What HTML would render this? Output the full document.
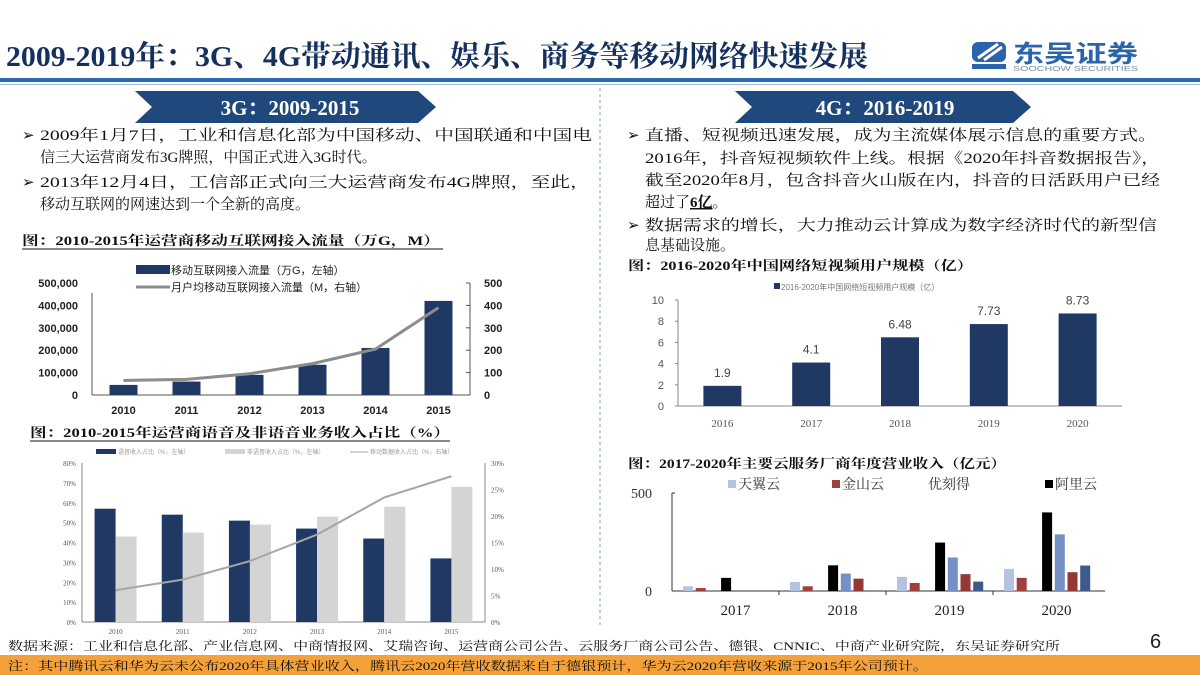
<!DOCTYPE html>
<html><head><meta charset="utf-8">
<style>
html,body{margin:0;padding:0;background:#fff;}
svg{display:block;}
.s{font-family:"Liberation Serif","Noto Serif CJK SC",serif;}
.a{font-family:"Liberation Sans","Noto Sans CJK SC",sans-serif;}
</style></head>
<body>
<svg id="page" width="1200" height="675" viewBox="0 0 1200 675" xmlns="http://www.w3.org/2000/svg">
<!-- header -->
<text class="s" x="6" y="66" font-size="29" font-weight="bold" fill="#14305e" textLength="862" lengthAdjust="spacingAndGlyphs">2009-2019年：3G、4G带动通讯、娱乐、商务等移动网络快速发展</text>
<g>
<rect x="972" y="42" width="34" height="20" rx="6" fill="#2b63ad"/>
<path d="M978 58 L998 44 M984 60 L1002 47" stroke="#fff" stroke-width="3"/>
<rect x="972" y="64" width="34" height="5" fill="#2b63ad"/>
<text class="a" x="1013" y="62" font-size="24" font-weight="bold" fill="#2b63ad" textLength="125" lengthAdjust="spacingAndGlyphs">东吴证券</text>
<text class="a" x="1013" y="71" font-size="7" fill="#7c8fa8" textLength="125" lengthAdjust="spacingAndGlyphs">SOOCHOW SECURITIES</text>
</g>
<rect x="0" y="78" width="1200" height="4" fill="#2b6cb8"/>
<rect x="0" y="84" width="1200" height="1" fill="#9dbbe0"/>
<line x1="600" y1="88" x2="600" y2="628" stroke="#7d9cc7" stroke-width="1" stroke-dasharray="3,3"/>

<!-- banners -->
<g>
<polygon points="135,91 418,91 436,107 418,123 135,123 152,107" fill="#1f497d"/>
<text class="s" x="290" y="115" font-size="21" font-weight="bold" fill="#fff" text-anchor="middle">3G：2009-2015</text>
</g>
<g>
<polygon points="735,91 1013,91 1031,107 1013,123 735,123 752,107" fill="#1f497d"/>
<text class="s" x="885" y="115" font-size="21" font-weight="bold" fill="#fff" text-anchor="middle">4G：2016-2019</text>
</g>

<!-- left bullets -->
<g class="s" font-size="15" fill="#111">
<text x="22" y="140">➢</text>
<text x="40" y="140" textLength="552" lengthAdjust="spacingAndGlyphs">2009年1月7日，工业和信息化部为中国移动、中国联通和中国电</text>
<text x="40" y="162">信三大运营商发布3G牌照，中国正式进入3G时代。</text>
<text x="22" y="187">➢</text>
<text x="40" y="187" textLength="550" lengthAdjust="spacingAndGlyphs">2013年12月4日，工信部正式向三大运营商发布4G牌照，至此，</text>
<text x="40" y="209">移动互联网的网速达到一个全新的高度。</text>
</g>
<!-- right bullets -->
<g class="s" font-size="15" fill="#111">
<text x="627" y="140">➢</text>
<text x="645" y="140" textLength="512" lengthAdjust="spacingAndGlyphs">直播、短视频迅速发展，成为主流媒体展示信息的重要方式。</text>
<text x="645" y="163" textLength="515" lengthAdjust="spacingAndGlyphs">2016年，抖音短视频软件上线。根据《2020年抖音数据报告》，</text>
<text x="645" y="185" textLength="515" lengthAdjust="spacingAndGlyphs">截至2020年8月，包含抖音火山版在内，抖音的日活跃用户已经</text>
<text x="645" y="207">超过了<tspan font-weight="bold" text-decoration="underline">6亿</tspan>。</text>
<text x="627" y="230">➢</text>
<text x="645" y="230" textLength="512" lengthAdjust="spacingAndGlyphs">数据需求的增长，大力推动云计算成为数字经济时代的新型信</text>
<text x="645" y="250">息基础设施。</text>
</g>

<!-- chart titles -->
<text class="s" x="22" y="245" font-size="13" font-weight="bold" fill="#111" textLength="418" lengthAdjust="spacingAndGlyphs">图：2010-2015年运营商移动互联网接入流量（万G，M）</text>
<line x1="22" y1="249" x2="443" y2="249" stroke="#111"/>
<text class="s" x="30" y="437" font-size="13" font-weight="bold" fill="#111" textLength="420" lengthAdjust="spacingAndGlyphs">图：2010-2015年运营商语音及非语音业务收入占比（%）</text>
<line x1="30" y1="441" x2="450" y2="441" stroke="#111"/>
<text class="s" x="628" y="270" font-size="13" font-weight="bold" fill="#111" textLength="345" lengthAdjust="spacingAndGlyphs">图：2016-2020年中国网络短视频用户规模（亿）</text>
<text class="s" x="628" y="468" font-size="13" font-weight="bold" fill="#111" textLength="378" lengthAdjust="spacingAndGlyphs">图：2017-2020年主要云服务厂商年度营业收入（亿元）</text>

<g id="c1"></g><g id="c2"></g><g id="c3"></g><g id="c4"></g>

<!-- footer -->
<text class="s" x="8" y="650" font-size="12" fill="#111" textLength="1052" lengthAdjust="spacingAndGlyphs">数据来源：工业和信息化部、产业信息网、中商情报网、艾瑞咨询、运营商公司公告、云服务厂商公司公告、德银、CNNIC、中商产业研究院，东吴证券研究所</text>
<text class="a" x="1150" y="648" font-size="20" fill="#222">6</text>
<rect x="0" y="655" width="1200" height="20" fill="#f5a13a"/>
<text class="s" x="8" y="670" font-size="12" fill="#111" textLength="920" lengthAdjust="spacingAndGlyphs">注：其中腾讯云和华为云未公布2020年具体营业收入，腾讯云2020年营收数据来自于德银预计，华为云2020年营收来源于2015年公司预计。</text>
</svg>
<script>
// chart 1
const c1Years = ['2010','2011','2012','2013','2014','2015'];
const c1Traffic = [45000, 60000, 90000, 135000, 210000, 420000];
const c1PerUser = [65, 70, 95, 140, 205, 390];
const c1LeftTicks = [0,100000,200000,300000,400000,500000];
const c1RightTicks = [0,100,200,300,400,500];
// chart 2
const c2Years = ['2010','2011','2012','2013','2014','2015'];
const c2Voice = [57, 54, 51, 47, 42, 32];
const c2NonVoice = [43, 45, 49, 53, 58, 68];
const c2Data = [6, 8, 11.5, 16.5, 23.5, 27.5];
const c2LeftTicks = [0,10,20,30,40,50,60,70,80];
const c2RightTicks = [0,5,10,15,20,25,30];
// chart 3
const c3Years = ['2016','2017','2018','2019','2020'];
const c3Users = [1.9, 4.1, 6.48, 7.73, 8.73];
const c3Labels = ['1.9','4.1','6.48','7.73','8.73'];
const c3Ticks = [0,2,4,6,8,10];
// chart 4
const c4Years = ['2017','2018','2019','2020'];
const c4Tianyi = [24, 46, 72, 113];
const c4Jinshan = [15, 24, 41, 67];
const c4Ali = [67, 131, 247, 401];
const c4Tencent = [0, 89, 171, 289];
const c4Ucloud = [0, 63, 86, 96];
const c4Huawei = [0, 0, 48, 130];
const c4Ticks = [0, 500];

const NS='http://www.w3.org/2000/svg';
function mk(parent, tag, attrs, txt){
  const e=document.createElementNS(NS,tag);
  for(const k in attrs) e.setAttribute(k,attrs[k]);
  if(txt!==undefined) e.textContent=txt;
  parent.appendChild(e); return e;
}
const SERIF='"Liberation Serif","Noto Serif CJK SC",serif';
const SANS='"Liberation Sans","Noto Sans CJK SC",sans-serif';

// ---- chart 1
(function(){
  const g=document.getElementById('c1');
  const x0=92,x1=470,yTop=283,yBot=395;
  const bw=(x1-x0)/c1Years.length;
  const yl=v=>yBot-(v/500000)*(yBot-yTop);
  const yr=v=>yBot-(v/500)*(yBot-yTop);
  const cx=i=>x0+bw*(i+0.5);
  let l=mk(g,'line',{x1:x0,y1:yTop+10,x2:x0,y2:yBot,stroke:'#555'});
  
  mk(g,'line',{x1:x1,y1:yTop,x2:x1,y2:yBot,stroke:'#555'});
  mk(g,'line',{x1:x0,y1:yBot,x2:x1,y2:yBot,stroke:'#555'});
  c1LeftTicks.forEach(v=>{
    const t=mk(g,'text',{x:x0-14,y:yl(v)+4,'font-size':11,'font-family':SANS,'text-anchor':'end',fill:'#222','font-weight':'bold'},v.toLocaleString('en-US'));
    
  });
  c1RightTicks.forEach(v=>{
    mk(g,'line',{x1:x1,y1:yr(v),x2:x1-4,y2:yr(v),stroke:'#555'});
    const t=mk(g,'text',{x:x1+14,y:yr(v)+4,'font-size':11,'font-family':SANS,fill:'#222','font-weight':'bold'},String(v));
    
  });
  c1Years.forEach((y,i)=>{
    const b=mk(g,'rect',{x:cx(i)-14,y:yl(c1Traffic[i]),width:28,height:yBot-yl(c1Traffic[i]),fill:'#1f3864'});
    
    const t=mk(g,'text',{x:cx(i),y:414,'font-size':11,'font-family':SANS,'text-anchor':'middle',fill:'#222','font-weight':'bold'},y);
    
  });
  let d=c1PerUser.map((v,i)=>(i?'L':'M')+cx(i)+' '+yr(v)).join(' ');
  const p=mk(g,'path',{d:d,fill:'none',stroke:'#8c8c8c','stroke-width':3});
  
  const lg=mk(g,'g',{});
  
  mk(lg,'rect',{x:136,y:265,width:34,height:9,fill:'#1f3864'});
  mk(lg,'text',{x:171,y:274,'font-size':11,'font-family':SANS,fill:'#222'},'移动互联网接入流量（万G，左轴）');
  mk(lg,'line',{x1:136,y1:287,x2:170,y2:287,stroke:'#8c8c8c','stroke-width':3});
  mk(lg,'text',{x:171,y:291,'font-size':11,'font-family':SANS,fill:'#222'},'月户均移动互联网接入流量（M，右轴）');
})();

// ---- chart 2
(function(){
  const g=document.getElementById('c2');
  const x0=82,x1=485,yTop=463,yBot=622;
  const bw=(x1-x0)/c2Years.length;
  const yl=v=>yBot-(v/80)*(yBot-yTop);
  const yr=v=>yBot-(v/30)*(yBot-yTop);
  const cx=i=>x0+bw*(i+0.5);
  mk(g,'line',{x1:x0,y1:yTop,x2:x0,y2:yBot,stroke:'#888'});
  mk(g,'line',{x1:x1,y1:yTop,x2:x1,y2:yBot,stroke:'#888'});
  mk(g,'line',{x1:x0,y1:yBot,x2:x1,y2:yBot,stroke:'#888'});
  c2LeftTicks.forEach(v=>{
    const t=mk(g,'text',{x:x0-6,y:yl(v)+3,'font-size':7,'font-family':SERIF,'text-anchor':'end',fill:'#555'},v+'%');
    
  });
  c2RightTicks.forEach(v=>{
    const t=mk(g,'text',{x:x1+6,y:yr(v)+3,'font-size':7,'font-family':SERIF,fill:'#555'},v+'%');
    
  });
  c2Years.forEach((y,i)=>{
    let b=mk(g,'rect',{x:cx(i)-21,y:yl(c2Voice[i]),width:21,height:yBot-yl(c2Voice[i]),fill:'#1f3864'});
    
    b=mk(g,'rect',{x:cx(i),y:yl(c2NonVoice[i]),width:21,height:yBot-yl(c2NonVoice[i]),fill:'#d4d4d4'});
    
    const t=mk(g,'text',{x:cx(i),y:634,'font-size':7,'font-family':SERIF,'text-anchor':'middle',fill:'#555'},y);
    
  });
  let d=c2Data.map((v,i)=>(i?'L':'M')+cx(i)+' '+yr(v)).join(' ');
  const p=mk(g,'path',{d:d,fill:'none',stroke:'#a6a6a6','stroke-width':2});
  
  const lg=mk(g,'g',{});
  
  mk(lg,'rect',{x:96,y:449,width:20,height:5,fill:'#1f3864'});
  mk(lg,'text',{x:118,y:454,'font-size':6,'font-family':SANS,fill:'#999'},'语音收入占比（%，左轴）');
  mk(lg,'rect',{x:225,y:449,width:20,height:5,fill:'#d4d4d4'});
  mk(lg,'text',{x:247,y:454,'font-size':6,'font-family':SANS,fill:'#999'},'非语音收入占比（%，左轴）');
  mk(lg,'line',{x1:350,y1:452,x2:368,y2:452,stroke:'#a6a6a6','stroke-width':1});
  mk(lg,'text',{x:370,y:454,'font-size':6,'font-family':SANS,fill:'#999'},'移动数据收入占比（%，右轴）');
})();

// ---- chart 3
(function(){
  const g=document.getElementById('c3');
  const x0=678,x1=1122,yTop=300,yBot=406;
  const bw=(x1-x0)/c3Years.length;
  const y=v=>yBot-(v/10)*(yBot-yTop);
  const cx=i=>x0+bw*(i+0.5);
  mk(g,'line',{x1:x0,y1:yTop,x2:x0,y2:yBot,stroke:'#888'});
  mk(g,'line',{x1:x0,y1:yBot,x2:x1,y2:yBot,stroke:'#888'});
  c3Ticks.forEach(v=>{
    mk(g,'line',{x1:x0-3,y1:y(v),x2:x0,y2:y(v),stroke:'#888'});
    const t=mk(g,'text',{x:x0-14,y:y(v)+4,'font-size':11,'font-family':SANS,'text-anchor':'end',fill:'#555'},String(v));
    
  });
  c3Years.forEach((yr,i)=>{
    const b=mk(g,'rect',{x:cx(i)-19,y:y(c3Users[i]),width:38,height:yBot-y(c3Users[i]),fill:'#1f3864'});
    
    let t=mk(g,'text',{x:cx(i),y:y(c3Users[i])-9,'font-size':12,'font-family':SANS,'text-anchor':'middle',fill:'#444'},c3Labels[i]);
    
    t=mk(g,'text',{x:cx(i),y:427,'font-size':11,'font-family':SERIF,'text-anchor':'middle',fill:'#555'},yr);
    
  });
  const lg=mk(g,'g',{});
  
  mk(lg,'rect',{x:774,y:283,width:6,height:6,fill:'#1f3864'});
  mk(lg,'text',{x:781,y:290,'font-size':8,'font-family':SANS,fill:'#777'},'2016-2020年中国网络短视频用户规模（亿）');
})();

// ---- chart 4
(function(){
  const g=document.getElementById('c4');
  const x0=672,x1=1105,yTop=493,yBot=591;
  const cw=107;
  const y=v=>yBot-(v/500)*(yBot-yTop);
  const series=[
    {vals:c4Tianyi,slot:0,col:'#b4c3df',n:'tianyi'},
    {vals:c4Jinshan,slot:1,col:'#a0403c',n:'jinshan'},
    {vals:c4Ali,slot:3,col:'#000000',n:'aliyun'},
    {vals:c4Tencent,slot:4,col:'#7391c4',n:'tencent'},
    {vals:c4Ucloud,slot:5,col:'#953735',n:'ucloud'},
    {vals:c4Huawei,slot:6,col:'#3d5a8a',n:'huawei'}];
  mk(g,'line',{x1:x0,y1:yTop,x2:x0,y2:yBot,stroke:'#333'});
  mk(g,'line',{x1:x0,y1:yBot,x2:x1,y2:yBot,stroke:'#333'});
  c4Ticks.forEach(v=>{
    mk(g,'line',{x1:x0,y1:y(v),x2:x0+3,y2:y(v),stroke:'#333'});
    const t=mk(g,'text',{x:x0-20,y:y(v)+5,'font-size':14,'font-family':SERIF,'text-anchor':'end',fill:'#333'},String(v));
    
  });
  c4Years.forEach((yr,i)=>{
    const gx=x0+cw*i;
    if(i>0) mk(g,'line',{x1:gx,y1:yBot,x2:gx,y2:yBot+4,stroke:'#333'});
    series.forEach(s=>{
      const v=s.vals[i]; if(!v) return;
      const b=mk(g,'rect',{x:gx+11+s.slot*12.7,y:y(v),width:10,height:yBot-y(v),fill:s.col});
      
    });
    const t=mk(g,'text',{x:gx+cw/2+10,y:615,'font-size':15,'font-family':SERIF,'text-anchor':'middle',fill:'#222'},yr);
    
  });
  const lg=mk(g,'g',{});
  
  const items=[['天翼云','#b4c3df',728],['金山云','#a0403c',832],['优刻得',null,928],['阿里云','#000',1045]];
  items.forEach(it=>{
    if(it[1]) mk(lg,'rect',{x:it[2],y:480,width:8,height:8,fill:it[1]});
    mk(lg,'text',{x:it[2]+(it[1]?10:0),y:489,'font-size':14,'font-family':SERIF,fill:'#333'},it[0]);
  });
})();
</script>
</body></html>
